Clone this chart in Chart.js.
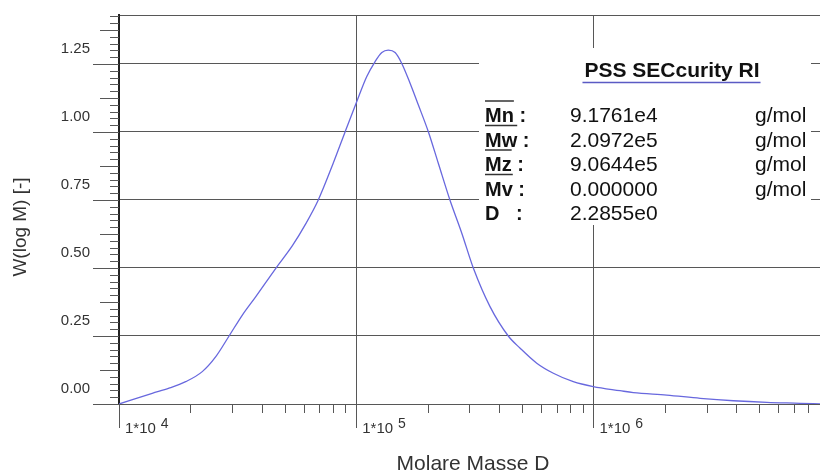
<!DOCTYPE html>
<html>
<head>
<meta charset="utf-8">
<title>PSS SECcurity RI</title>
<script src="https://cdn.jsdelivr.net/npm/chart.js@4.4.1/dist/chart.umd.min.js"></script>
<style>
  html, body { margin: 0; padding: 0; background: #fff; }
  #wrap { width: 820px; height: 474px; }
</style>
</head>
<body>
<div id="wrap"><canvas id="chart" width="820" height="474"></canvas></div>
<script>
// ==========================================
// DATA
// ==========================================
// x = log10(molare Masse), y = W(log M)
const logMasse = [
    4.000, 4.140, 4.211, 4.281, 4.351, 4.408, 4.464, 4.520, 4.576, 4.661,
    4.731, 4.787, 4.840, 4.903, 4.953, 5.002, 5.044, 5.079, 5.108, 5.135,
    5.164, 5.192, 5.227, 5.262, 5.304, 5.346, 5.395, 5.445, 5.494, 5.564,
    5.641, 5.691, 5.761, 5.831, 5.915, 5.999, 6.112, 6.168, 6.309, 6.450,
    6.590, 6.731, 6.871, 6.955
];
const wLogM = [
    0.000, 0.039, 0.058, 0.082, 0.119, 0.174, 0.250, 0.327, 0.394, 0.499,
    0.582, 0.662, 0.750, 0.885, 1.000, 1.111, 1.203, 1.258, 1.292, 1.301,
    1.292, 1.252, 1.179, 1.099, 1.001, 0.885, 0.750, 0.628, 0.499, 0.358,
    0.250, 0.205, 0.150, 0.113, 0.082, 0.064, 0.049, 0.042, 0.033, 0.021,
    0.012, 0.006, 0.0025, 0.000
];

// axes
const xMin = 4;
const xMax = 6.955;
const decades = [4, 5, 6];
const yMax = 1.43;
const yMajorStep = 0.25;
const yMinorStep = 0.025;

// result box
const statsTitle  = 'PSS SECcurity RI';
const statsNames  = ['Mn', 'Mw', 'Mz', 'Mv', 'D'];
const statsValues = ['9.1761e4', '2.0972e5', '9.0644e5', '0.000000', '2.2855e0'];
const statsUnits  = ['g/mol', 'g/mol', 'g/mol', 'g/mol', ''];

const FONT = '"Liberation Sans", Arial, Helvetica, sans-serif';
const GRID = '#575757';

function isYMajor(v) {
    return Math.abs(v / yMajorStep - Math.round(v / yMajorStep)) < 1e-6;
}

function yTickValues() {
    const out = [];
    for (let i = 0; i * yMinorStep <= yMax + 1e-9; i++) out.push(+(i * yMinorStep).toFixed(3));
    return out;
}

function xTickValues() {
    const out = [];
    decades.forEach(n => {
        for (let k = 1; k <= 9; k++) {
            const v = n + Math.log10(k);
            if (v <= xMax + 1e-9) out.push({ value: v, decade: k === 1, exp: n });
        }
    });
    return out;
}

// ==========================================
// PLUGIN: ticks, white result box, texts
// ==========================================
const secPlugin = {
    id: 'secPlugin',
    beforeDatasetsDraw(chart) {
        const c = chart.ctx;
        const xs = chart.scales.x, ys = chart.scales.y;
        const left = chart.chartArea.left, bottom = chart.chartArea.bottom;

        c.save();
        c.strokeStyle = GRID;
        c.lineWidth = 1;

        // y ticks left of axis
        yTickValues().forEach((v, i) => {
            const y = Math.round(ys.getPixelForValue(v)) + 0.5;
            const len = i % 10 === 0 ? 26 : (i % 5 === 0 ? 19 : 9);
            c.beginPath();
            c.moveTo(left - len, y);
            c.lineTo(left, y);
            c.stroke();
        });

        // x ticks below axis
        xTickValues().forEach(t => {
            const x = Math.round(xs.getPixelForValue(t.value)) + 0.5;
            const len = t.decade ? 24 : 9;
            c.beginPath();
            c.moveTo(x, bottom);
            c.lineTo(x, bottom + len);
            c.stroke();
        });

        // white result box covers the grid
        c.fillStyle = '#fff';
        c.fillRect(479, 48, 332, 177);
        c.restore();
    },
    afterDraw(chart) {
        const c = chart.ctx;
        const xs = chart.scales.x;
        c.save();

        // x tick labels 1*10^n
        c.fillStyle = '#333';
        c.textBaseline = 'alphabetic';
        c.textAlign = 'left';
        decades.forEach(n => {
            const x = xs.getPixelForValue(n);
            c.font = '15px ' + FONT;
            c.fillText('1*10', x + 6, 433);
            const w = c.measureText('1*10').width;
            c.font = '14px ' + FONT;
            c.fillText(String(n), x + 6 + w + 5, 428);
        });

        // axis titles
        c.font = '21px ' + FONT;
        c.textAlign = 'center';
        c.fillText('Molare Masse D', 473, 470);

        c.save();
        c.translate(26, 227);
        c.rotate(-Math.PI / 2);
        c.font = '19px ' + FONT;
        c.fillText('W(log M) [-]', 0, 0);
        c.restore();

        // result box
        c.fillStyle = '#111';
        c.font = 'bold 21px ' + FONT;
        c.textAlign = 'center';
        c.fillText(statsTitle, 672, 77);
        const tw = c.measureText(statsTitle).width;
        c.strokeStyle = '#5a5ac4';
        c.lineWidth = 1.5;
        c.beginPath();
        c.moveTo(672 - tw / 2 - 2, 82.5);
        c.lineTo(672 + tw / 2 + 1, 82.5);
        c.stroke();

        c.textAlign = 'left';
        statsNames.forEach((name, i) => {
            const base = 122 + i * 24.5;
            c.font = 'bold 20px ' + FONT;
            c.fillStyle = '#111';
            const label = name === 'D' ? 'D   :' : name + ' :';
            c.fillText(label, 485, base);
            if (name !== 'D') {
                const nw = c.measureText(name).width;
                c.strokeStyle = '#333';
                c.lineWidth = 1.5;
                c.beginPath();
                c.moveTo(485, base - 21);
                c.lineTo(485 + nw, base - 21);
                c.stroke();
            }
            c.font = '21px ' + FONT;
            c.fillText(statsValues[i], 570, base);
            if (statsUnits[i]) c.fillText(statsUnits[i], 755, base);
        });

        c.restore();
    }
};

// ==========================================
// CHART
// ==========================================
function drawChart() {
    const ctx = document.getElementById('chart');
    const points = logMasse.map((x, i) => ({ x: x, y: wLogM[i] }));

    new Chart(ctx, {
        type: 'line',
        data: {
            datasets: [{
                data: points,
                borderColor: '#6868de',
                borderWidth: 1.3,
                pointRadius: 0,
                fill: false,
                cubicInterpolationMode: 'monotone'
            }]
        },
        options: {
            responsive: false,
            animation: false,
            layout: { padding: { top: 15, right: 0, bottom: 0, left: 0 } },
            plugins: {
                legend: { display: false },
                tooltip: { enabled: false }
            },
            scales: {
                x: {
                    type: 'linear',
                    min: xMin,
                    max: xMax,
                    afterBuildTicks: scale => {
                        scale.ticks = xTickValues().map(t => ({ value: t.value, major: t.decade }));
                    },
                    afterFit: scale => {
                        scale.height = 70;
                        scale.paddingLeft = 0;
                        scale.paddingRight = 0;
                    },
                    grid: {
                        drawTicks: false,
                        color: c => (c.tick && c.tick.major && c.tick.value > xMin) ? GRID : 'rgba(0,0,0,0)'
                    },
                    border: { display: true, color: GRID, width: 1 },
                    ticks: { display: false }
                },
                y: {
                    min: 0,
                    max: yMax,
                    afterBuildTicks: scale => {
                        scale.ticks = yTickValues().map(v => ({ value: v }));
                        scale.ticks.push({ value: yMax });
                    },
                    afterFit: scale => {
                        scale.width = 119;
                        scale.paddingTop = 0;
                        scale.paddingBottom = 0;
                    },
                    grid: {
                        drawTicks: false,
                        color: c => {
                            const v = c.tick ? c.tick.value : 0;
                            return (isYMajor(v) || Math.abs(v - yMax) < 1e-6) ? GRID : 'rgba(0,0,0,0)';
                        }
                    },
                    border: { display: true, color: '#222', width: 2 },
                    ticks: {
                        autoSkip: false,
                        padding: 29,
                        labelOffset: -15,
                        color: '#333',
                        font: { family: FONT, size: 15 },
                        callback: v => (isYMajor(v) && v <= 1.25 + 1e-6) ? v.toFixed(2) : ''
                    }
                }
            }
        },
        plugins: [secPlugin]
    });
}

document.addEventListener('DOMContentLoaded', () => {
    drawChart();
});
</script>
</body>
</html>
